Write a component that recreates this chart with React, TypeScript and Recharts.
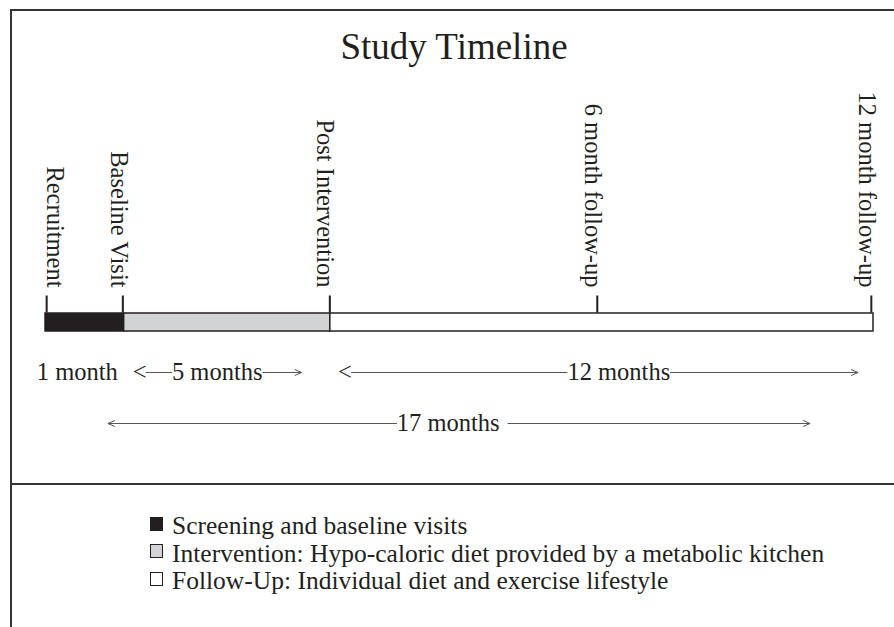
import React from 'react';
import { ComposedChart, Bar, XAxis, YAxis, ReferenceDot, ReferenceLine } from 'recharts';

// ---- data ----
const rows = ['timeline', 'phases', 'total'];

const phaseNames = [
  'Screening and baseline visits',
  'Intervention: Hypo-caloric diet provided by a metabolic kitchen',
  'Follow-Up: Individual diet and exercise lifestyle',
];
// drawn length of each phase, as % of the timeline bar
const phaseLengths = [9.5, 24.9, 65.6];
const phaseColors = ['#231f20', '#d1d3d4', '#ffffff'];

const milestoneNames = ['Recruitment', 'Baseline Visit', 'Post Intervention', '6 month follow-up', '12 month follow-up'];
const milestonePositions = [0.2, 9.4, 34.4, 66.7, 99.8];

const spanLabels = ['1 month', '5 months', '12 months', '17 months'];
const spanRows = ['phases', 'phases', 'phases', 'total'];
const spanFrom = [null, 10.6, 35.4, 7.6];
const spanTo = [null, 31.0, 98.2, 92.4];
const spanLabelAt = [3.9, 20.8, 69.3, 48.7];
const spanLeftHead = ['none', 'glyph', 'glyph', 'chevron'];

// ---- layout/style ----
const W = 894;
const H = 627;
const FONT = "'Liberation Serif', 'Times New Roman', serif";
const INK = '#231f20';
const LINE = '#555555';
const BAR_SIZE = 18;
const TICK_LEN = 17;
const LABEL_SIZE = 24.5;
const ROW_SIZE = 24.5;
const labelOffsets = [0, -12, -13, -12, -12];
const spanGapRight = [0, 0, 0, 8];

let measureCtx: CanvasRenderingContext2D | null = null;
function textWidth(s: string, size: number): number {
  try {
    if (!measureCtx) {
      const c = document.createElement('canvas');
      measureCtx = c.getContext('2d');
    }
    if (measureCtx) {
      measureCtx.font = `${size}px 'Liberation Serif'`;
      return measureCtx.measureText(s).width;
    }
  } catch (e) {
    // ignore
  }
  return s.length * size * 0.45;
}

const chartData = rows.map((row, i) =>
  i === 0 ? { row, p0: phaseLengths[0], p1: phaseLengths[1], p2: phaseLengths[2] } : { row }
);

const milestoneShape = (i: number) => (props: any) => {
  const { cx, cy } = props;
  const top = cy - BAR_SIZE / 2;
  const tx = cx + labelOffsets[i];
  const ty = top - TICK_LEN - 8;
  return (
    <g>
      <line x1={cx} y1={top - TICK_LEN} x2={cx} y2={top} stroke={INK} strokeWidth={2} />
      <text
        x={tx}
        y={ty}
        transform={`rotate(90, ${tx}, ${ty})`}
        textAnchor="end"
        fontFamily={FONT}
        fontSize={LABEL_SIZE}
        fill={INK}
      >
        {milestoneNames[i]}
      </text>
    </g>
  );
};

const spanShape = (i: number) => (props: any) => {
  const { x1, y1, x2 } = props;
  const y = y1;
  const from = spanFrom[i] as number;
  const to = spanTo[i] as number;
  const cx = x1 + ((spanLabelAt[i] - from) / (to - from)) * (x2 - x1);
  const w = textWidth(spanLabels[i], ROW_SIZE);
  const glyphW = 13;
  const lineStart = spanLeftHead[i] === 'glyph' ? x1 + glyphW : x1;
  return (
    <g>
      <line x1={lineStart} y1={y} x2={cx - w / 2} y2={y} stroke={LINE} strokeWidth={1} />
      <line x1={cx + w / 2 + spanGapRight[i]} y1={y} x2={x2} y2={y} stroke={LINE} strokeWidth={1} />
      {spanLeftHead[i] === 'glyph' ? (
        <text x={x1} y={y + 7} fontFamily={FONT} fontSize={ROW_SIZE} fill={INK}>
          {'<'}
        </text>
      ) : (
        <polyline points={`${x1 + 7},${y - 3} ${x1},${y} ${x1 + 7},${y + 3}`} fill="none" stroke={LINE} strokeWidth={1} />
      )}
      <polyline points={`${x2 - 7},${y - 3} ${x2},${y} ${x2 - 7},${y + 3}`} fill="none" stroke={LINE} strokeWidth={1} />
      <text x={cx} y={y + 7} textAnchor="middle" fontFamily={FONT} fontSize={ROW_SIZE} fill={INK}>
        {spanLabels[i]}
      </text>
    </g>
  );
};

const textShape = (i: number) => (props: any) => {
  const { cx, cy } = props;
  return (
    <text x={cx} y={cy + 7} textAnchor="middle" fontFamily={FONT} fontSize={ROW_SIZE} fill={INK}>
      {spanLabels[i]}
    </text>
  );
};

export default function App() {
  return (
    <div style={{ position: 'absolute', left: 0, top: 0, width: W, height: H, background: '#fff', overflow: 'hidden' }}>
      <svg width={W} height={H} style={{ position: 'absolute', left: 0, top: 0 }}>
        <line x1={11} y1={10} x2={W} y2={10} stroke="#333" strokeWidth={2} />
        <line x1={11} y1={9} x2={11} y2={H} stroke="#333" strokeWidth={2} />
        <line x1={11} y1={484} x2={W} y2={484} stroke="#333" strokeWidth={2} />
        <text x={454} y={59} textAnchor="middle" fontFamily={FONT} fontSize={37} fill={INK}>
          Study Timeline
        </text>
      </svg>
      <div style={{ position: 'absolute', left: 0, top: 0 }}>
        <ComposedChart
          width={W}
          height={470}
          layout="vertical"
          data={chartData}
          margin={{ top: 296, right: 21, bottom: 21, left: 45 }}
        >
          <XAxis type="number" domain={[0, 100]} hide />
          <YAxis type="category" dataKey="row" hide width={0} />
          {phaseNames.map((name, i) => (
            <Bar
              key={name}
              dataKey={`p${i}`}
              name={name}
              stackId="a"
              barSize={BAR_SIZE}
              fill={phaseColors[i]}
              stroke={INK}
              strokeWidth={1.5}
              isAnimationActive={false}
            />
          ))}
          {milestoneNames.map((name, i) => (
            <ReferenceDot
              key={name}
              x={milestonePositions[i]}
              y="timeline"
              ifOverflow="visible"
              shape={milestoneShape(i)}
            />
          ))}
          {spanLabels.map((label, i) =>
            spanFrom[i] == null ? (
              <ReferenceDot key={label} x={spanLabelAt[i]} y={spanRows[i]} ifOverflow="visible" shape={textShape(i)} />
            ) : (
              <ReferenceLine
                key={label}
                segment={[
                  { x: spanFrom[i] as number, y: spanRows[i] },
                  { x: spanTo[i] as number, y: spanRows[i] },
                ]}
                ifOverflow="visible"
                shape={spanShape(i)}
              />
            )
          )}
        </ComposedChart>
      </div>
      <div style={{ position: 'absolute', left: 150, top: 512, fontFamily: FONT, fontSize: 25.5, color: INK }}>
        {phaseNames.map((name, i) => (
          <div key={name} style={{ display: 'flex', alignItems: 'center', height: 27.5, lineHeight: '27.5px', whiteSpace: 'nowrap' }}>
            <span
              style={{
                display: 'inline-block',
                width: 13,
                height: 14,
                background: phaseColors[i],
                border: `1.5px solid ${INK}`,
                marginRight: 9,
                boxSizing: 'border-box',
                position: 'relative',
                top: -2,
              }}
            />
            <span>{name}</span>
          </div>
        ))}
      </div>
    </div>
  );
}
